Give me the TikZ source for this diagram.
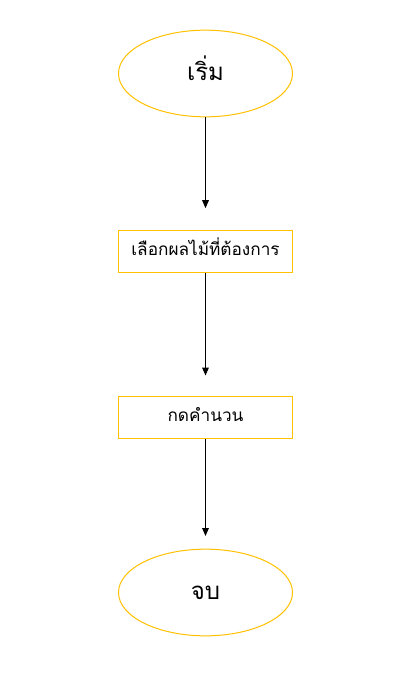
\documentclass[tikz,border=0pt]{standalone}
\usepackage{fontspec}
\newfontfamily\thaifont[Script=Thai]{Loma}
\usetikzlibrary{shapes.geometric,arrows.meta}
\definecolor{gold}{HTML}{FFC000}
\begin{document}
\begin{tikzpicture}[x=0.75pt,y=-0.75pt,
  term/.style={draw=gold,line width=0.75pt,ellipse,minimum width=130.5pt,minimum height=65pt,inner sep=0pt,text height=10.5pt,text depth=0pt,font=\thaifont\fontsize{18}{21}\selectfont},
  proc/.style={draw=gold,line width=0.75pt,rectangle,minimum width=130.5pt,minimum height=31.5pt,inner sep=0pt,text height=7pt,text depth=0pt,font=\thaifont\fontsize{12.9}{15}\selectfont},
  flow/.style={-{Triangle[length=6pt,width=5pt]},line width=0.75pt}]
\useasboundingbox (0,0) rectangle (401,682);
\node[term] (start) at (205.5,73.5) {เริ่ม};
\node[proc] (choose) at (205.5,251) {เลือกผลไม้ที่ต้องการ};
\node[proc] (calc) at (205.5,417) {กดคำนวน};
\node[term] (stop) at (205.5,592.5) {จบ};
\draw[flow,shorten >=16pt] (start) -- (choose);
\draw[flow,shorten >=15pt] (choose) -- (calc);
\draw[flow,shorten >=9.5pt] (calc) -- (stop);
\end{tikzpicture}
\end{document}
